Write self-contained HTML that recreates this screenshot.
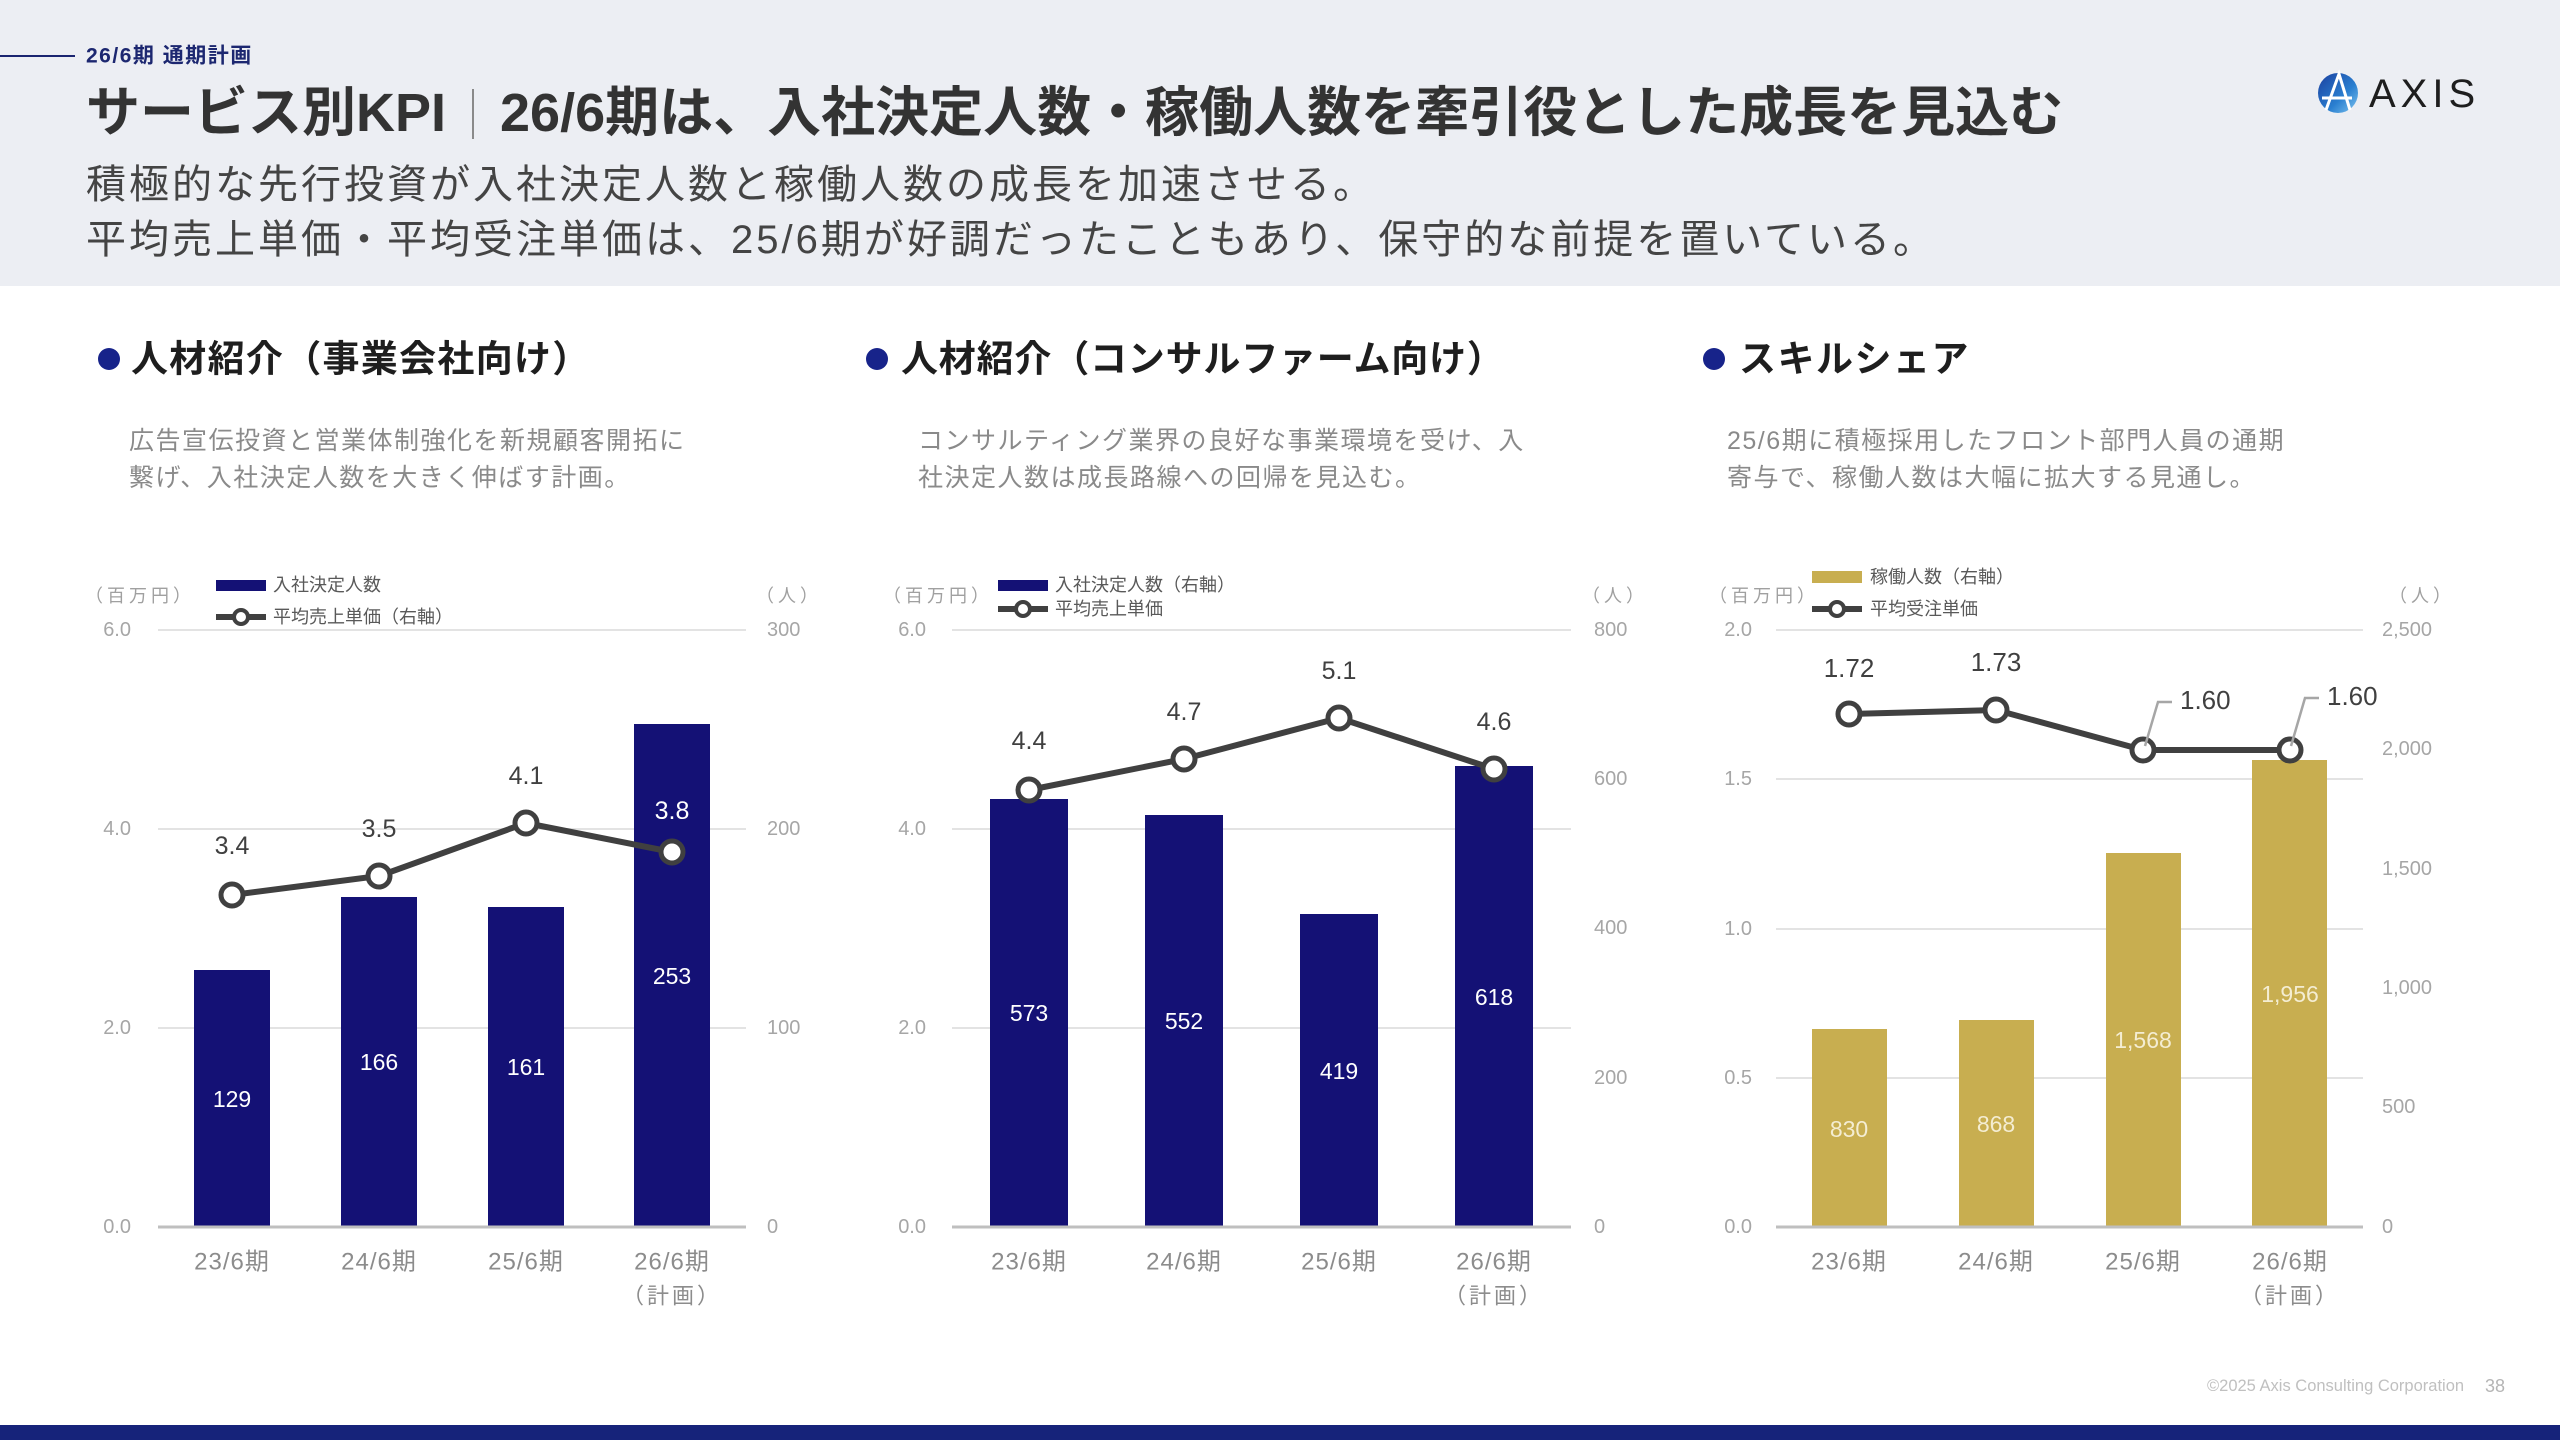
<!DOCTYPE html>
<html><head><meta charset="utf-8"><style>
html,body{margin:0;padding:0;width:2560px;height:1440px;overflow:hidden;background:#fff}
svg{display:block}
text{font-family:"Liberation Sans","Noto Sans CJK JP",sans-serif}
</style></head><body>
<svg width="2560" height="1440" viewBox="0 0 2560 1440" xmlns="http://www.w3.org/2000/svg">
<defs>
<linearGradient id="lg" x1="0" y1="0" x2="1" y2="1">
<stop offset="0" stop-color="#1b3f9e"/><stop offset="0.6" stop-color="#2a7fd0"/><stop offset="1" stop-color="#7fc6f0"/>
</linearGradient>
</defs>
<!-- header -->
<rect x="0" y="0" width="2560" height="286" fill="#ECEEF3"/>
<rect x="0" y="1425" width="2560" height="15" fill="#16237A"/>
<line x1="0" y1="56" x2="75" y2="56" stroke="#1a2470" stroke-width="2"/>
<text x="86" y="56" dominant-baseline="central" font-size="21" font-weight="bold" letter-spacing="1.5" fill="#1c2770">26/6期 通期計画</text>
<text x="86" y="113" dominant-baseline="central" font-size="54" font-weight="bold" fill="#333">サービス別KPI</text>
<line x1="473" y1="89" x2="473" y2="139" stroke="#8a8a8a" stroke-width="2"/>
<text x="500" y="113" dominant-baseline="central" font-size="54" font-weight="bold" fill="#333">26/6期は、入社決定人数・稼働人数を牽引役とした成長を見込む</text>
<text x="86" y="185" dominant-baseline="central" font-size="40" letter-spacing="3" fill="#444">積極的な先行投資が入社決定人数と稼働人数の成長を加速させる。</text>
<text x="86" y="240" dominant-baseline="central" font-size="40" letter-spacing="3" fill="#444">平均売上単価・平均受注単価は、25/6期が好調だったこともあり、保守的な前提を置いている。</text>
<!-- logo -->
<circle cx="2338" cy="93" r="20" fill="url(#lg)"/>
<path d="M2326 110 L2339 74 L2350 110 M2322 98 L2352 98" stroke="#fff" stroke-width="3" fill="none"/>
<text x="2369" y="94" dominant-baseline="central" font-size="40" letter-spacing="5" fill="#1e1e1e">AXIS</text>

<!-- section headers -->
<circle cx="109" cy="359" r="11" fill="#17238a"/>
<text x="131" y="359" dominant-baseline="central" font-size="37" font-weight="bold" letter-spacing="1.3" fill="#1e1e1e">人材紹介（事業会社向け）</text>
<circle cx="877" cy="359" r="11" fill="#17238a"/>
<text x="901" y="359" dominant-baseline="central" font-size="37" font-weight="bold" letter-spacing="0.8" fill="#1e1e1e">人材紹介（コンサルファーム向け）</text>
<circle cx="1714" cy="359" r="11" fill="#17238a"/>
<text x="1739" y="359" dominant-baseline="central" font-size="37" font-weight="bold" letter-spacing="1.5" fill="#1e1e1e">スキルシェア</text>

<g font-size="25" letter-spacing="1.5" fill="#8a8a8a">
<text x="129" y="441" dominant-baseline="central">広告宣伝投資と営業体制強化を新規顧客開拓に</text>
<text x="129" y="478" dominant-baseline="central">繋げ、入社決定人数を大きく伸ばす計画。</text>
<text x="918" y="441" dominant-baseline="central">コンサルティング業界の良好な事業環境を受け、入</text>
<text x="918" y="478" dominant-baseline="central">社決定人数は成長路線への回帰を見込む。</text>
<text x="1727" y="441" dominant-baseline="central">25/6期に積極採用したフロント部門人員の通期</text>
<text x="1727" y="478" dominant-baseline="central">寄与で、稼働人数は大幅に拡大する見通し。</text>
</g>

<!-- ============ CHART 1 ============ -->
<g stroke="#e3e3e3" stroke-width="2">
<line x1="158" y1="630" x2="746" y2="630"/><line x1="158" y1="829" x2="746" y2="829"/><line x1="158" y1="1028" x2="746" y2="1028"/>
</g>
<g fill="#141175">
<rect x="194" y="970" width="76" height="257"/>
<rect x="341" y="897" width="76" height="330"/>
<rect x="488" y="907" width="76" height="320"/>
<rect x="634" y="724" width="76" height="503"/>
</g>
<line x1="158" y1="1227" x2="746" y2="1227" stroke="#bfbfbf" stroke-width="3"/>
<g font-size="23" fill="#fff" text-anchor="middle">
<text x="232" y="1099" dominant-baseline="central">129</text>
<text x="379" y="1062" dominant-baseline="central">166</text>
<text x="526" y="1067" dominant-baseline="central">161</text>
<text x="672" y="976" dominant-baseline="central">253</text>
</g>
<polyline points="232,895 379,876 526,823 672,852" fill="none" stroke="#404040" stroke-width="6"/>
<g fill="#fff" stroke="#404040" stroke-width="5">
<circle cx="232" cy="895" r="11"/><circle cx="379" cy="876" r="11"/><circle cx="526" cy="823" r="11"/><circle cx="672" cy="852" r="11"/>
</g>
<g font-size="25" fill="#404040" text-anchor="middle">
<text x="232" y="846" dominant-baseline="central">3.4</text>
<text x="379" y="829" dominant-baseline="central">3.5</text>
<text x="526" y="776" dominant-baseline="central">4.1</text>
<text x="672" y="811" dominant-baseline="central" fill="#fff">3.8</text>
</g>
<g font-size="20" fill="#a6a6a6" text-anchor="end">
<text x="131" y="630" dominant-baseline="central">6.0</text>
<text x="131" y="829" dominant-baseline="central">4.0</text>
<text x="131" y="1028" dominant-baseline="central">2.0</text>
<text x="131" y="1227" dominant-baseline="central">0.0</text>
</g>
<g font-size="20" fill="#a6a6a6">
<text x="767" y="630" dominant-baseline="central">300</text>
<text x="767" y="829" dominant-baseline="central">200</text>
<text x="767" y="1028" dominant-baseline="central">100</text>
<text x="767" y="1227" dominant-baseline="central">0</text>
</g>
<g font-size="18" fill="#a0a0a0" letter-spacing="4">
<text x="85" y="596" dominant-baseline="central">（百万円）</text>
<text x="756" y="596" dominant-baseline="central">（人）</text>
</g>
<g font-size="24" letter-spacing="1" fill="#8c8c8c" text-anchor="middle">
<text x="232" y="1262" dominant-baseline="central">23/6期</text>
<text x="379" y="1262" dominant-baseline="central">24/6期</text>
<text x="526" y="1262" dominant-baseline="central">25/6期</text>
<text x="672" y="1262" dominant-baseline="central">26/6期</text>
<text x="672" y="1296" dominant-baseline="central" font-size="22" letter-spacing="3">（計画）</text>
</g>
<rect x="216" y="580" width="50" height="11" fill="#141175"/>
<line x1="216" y1="617" x2="266" y2="617" stroke="#404040" stroke-width="6"/>
<circle cx="241" cy="617" r="7" fill="#fff" stroke="#404040" stroke-width="4"/>
<g font-size="18" fill="#595959">
<text x="273" y="585" dominant-baseline="central">入社決定人数</text>
<text x="273" y="617" dominant-baseline="central">平均売上単価（右軸）</text>
</g>

<!-- ============ CHART 2 ============ -->
<g stroke="#e3e3e3" stroke-width="2">
<line x1="952" y1="630" x2="1571" y2="630"/><line x1="952" y1="829" x2="1571" y2="829"/><line x1="952" y1="1028" x2="1571" y2="1028"/>
</g>
<g fill="#141175">
<rect x="990" y="799" width="78" height="428"/>
<rect x="1145" y="815" width="78" height="412"/>
<rect x="1300" y="914" width="78" height="313"/>
<rect x="1455" y="766" width="78" height="461"/>
</g>
<line x1="952" y1="1227" x2="1571" y2="1227" stroke="#bfbfbf" stroke-width="3"/>
<g font-size="23" fill="#fff" text-anchor="middle">
<text x="1029" y="1013" dominant-baseline="central">573</text>
<text x="1184" y="1021" dominant-baseline="central">552</text>
<text x="1339" y="1071" dominant-baseline="central">419</text>
<text x="1494" y="997" dominant-baseline="central">618</text>
</g>
<polyline points="1029,790 1184,759 1339,718 1494,769" fill="none" stroke="#404040" stroke-width="6"/>
<g fill="#fff" stroke="#404040" stroke-width="5">
<circle cx="1029" cy="790" r="11"/><circle cx="1184" cy="759" r="11"/><circle cx="1339" cy="718" r="11"/><circle cx="1494" cy="769" r="11"/>
</g>
<g font-size="25" fill="#404040" text-anchor="middle">
<text x="1029" y="741" dominant-baseline="central">4.4</text>
<text x="1184" y="712" dominant-baseline="central">4.7</text>
<text x="1339" y="671" dominant-baseline="central">5.1</text>
<text x="1494" y="722" dominant-baseline="central">4.6</text>
</g>
<g font-size="20" fill="#a6a6a6" text-anchor="end">
<text x="926" y="630" dominant-baseline="central">6.0</text>
<text x="926" y="829" dominant-baseline="central">4.0</text>
<text x="926" y="1028" dominant-baseline="central">2.0</text>
<text x="926" y="1227" dominant-baseline="central">0.0</text>
</g>
<g font-size="20" fill="#a6a6a6">
<text x="1594" y="630" dominant-baseline="central">800</text>
<text x="1594" y="779" dominant-baseline="central">600</text>
<text x="1594" y="928" dominant-baseline="central">400</text>
<text x="1594" y="1078" dominant-baseline="central">200</text>
<text x="1594" y="1227" dominant-baseline="central">0</text>
</g>
<g font-size="18" fill="#a0a0a0" letter-spacing="4">
<text x="883" y="596" dominant-baseline="central">（百万円）</text>
<text x="1582" y="596" dominant-baseline="central">（人）</text>
</g>
<g font-size="24" letter-spacing="1" fill="#8c8c8c" text-anchor="middle">
<text x="1029" y="1262" dominant-baseline="central">23/6期</text>
<text x="1184" y="1262" dominant-baseline="central">24/6期</text>
<text x="1339" y="1262" dominant-baseline="central">25/6期</text>
<text x="1494" y="1262" dominant-baseline="central">26/6期</text>
<text x="1494" y="1296" dominant-baseline="central" font-size="22" letter-spacing="3">（計画）</text>
</g>
<rect x="998" y="580" width="50" height="11" fill="#141175"/>
<line x1="998" y1="609" x2="1048" y2="609" stroke="#404040" stroke-width="6"/>
<circle cx="1023" cy="609" r="7" fill="#fff" stroke="#404040" stroke-width="4"/>
<g font-size="18" fill="#595959">
<text x="1055" y="585" dominant-baseline="central">入社決定人数（右軸）</text>
<text x="1055" y="609" dominant-baseline="central">平均売上単価</text>
</g>

<!-- ============ CHART 3 ============ -->
<g stroke="#e3e3e3" stroke-width="2">
<line x1="1776" y1="630" x2="2363" y2="630"/><line x1="1776" y1="779" x2="2363" y2="779"/><line x1="1776" y1="929" x2="2363" y2="929"/><line x1="1776" y1="1078" x2="2363" y2="1078"/>
</g>
<g fill="#C8AE50">
<rect x="1812" y="1029" width="75" height="198"/>
<rect x="1959" y="1020" width="75" height="207"/>
<rect x="2106" y="853" width="75" height="374"/>
<rect x="2252" y="760" width="75" height="467"/>
</g>
<line x1="1776" y1="1227" x2="2363" y2="1227" stroke="#bfbfbf" stroke-width="3"/>
<g font-size="23" fill="#F4EDD2" text-anchor="middle">
<text x="1849" y="1129" dominant-baseline="central">830</text>
<text x="1996" y="1124" dominant-baseline="central">868</text>
<text x="2143" y="1040" dominant-baseline="central">1,568</text>
<text x="2290" y="994" dominant-baseline="central">1,956</text>
</g>
<polyline points="1849,714 1996,710 2143,750 2290,750" fill="none" stroke="#404040" stroke-width="6"/>
<g fill="#fff" stroke="#404040" stroke-width="5">
<circle cx="1849" cy="714" r="11"/><circle cx="1996" cy="710" r="11"/><circle cx="2143" cy="750" r="11"/><circle cx="2290" cy="750" r="11"/>
</g>
<g fill="none" stroke="#a6a6a6" stroke-width="2.5">
<polyline points="2145,746 2158,702 2172,702"/>
<polyline points="2291,746 2305,698 2319,698"/>
</g>
<g font-size="26" fill="#404040">
<text x="1849" y="668" text-anchor="middle" dominant-baseline="central">1.72</text>
<text x="1996" y="662" text-anchor="middle" dominant-baseline="central">1.73</text>
<text x="2180" y="700" dominant-baseline="central">1.60</text>
<text x="2327" y="696" dominant-baseline="central">1.60</text>
</g>
<g font-size="20" fill="#a6a6a6" text-anchor="end">
<text x="1752" y="630" dominant-baseline="central">2.0</text>
<text x="1752" y="779" dominant-baseline="central">1.5</text>
<text x="1752" y="929" dominant-baseline="central">1.0</text>
<text x="1752" y="1078" dominant-baseline="central">0.5</text>
<text x="1752" y="1227" dominant-baseline="central">0.0</text>
</g>
<g font-size="20" fill="#a6a6a6">
<text x="2382" y="630" dominant-baseline="central">2,500</text>
<text x="2382" y="749" dominant-baseline="central">2,000</text>
<text x="2382" y="869" dominant-baseline="central">1,500</text>
<text x="2382" y="988" dominant-baseline="central">1,000</text>
<text x="2382" y="1107" dominant-baseline="central">500</text>
<text x="2382" y="1227" dominant-baseline="central">0</text>
</g>
<g font-size="18" fill="#a0a0a0" letter-spacing="4">
<text x="1709" y="596" dominant-baseline="central">（百万円）</text>
<text x="2389" y="596" dominant-baseline="central">（人）</text>
</g>
<g font-size="24" letter-spacing="1" fill="#8c8c8c" text-anchor="middle">
<text x="1849" y="1262" dominant-baseline="central">23/6期</text>
<text x="1996" y="1262" dominant-baseline="central">24/6期</text>
<text x="2143" y="1262" dominant-baseline="central">25/6期</text>
<text x="2290" y="1262" dominant-baseline="central">26/6期</text>
<text x="2290" y="1296" dominant-baseline="central" font-size="22" letter-spacing="3">（計画）</text>
</g>
<rect x="1812" y="571" width="50" height="12" fill="#C8AE50"/>
<line x1="1812" y1="609" x2="1862" y2="609" stroke="#404040" stroke-width="6"/>
<circle cx="1837" cy="609" r="7" fill="#fff" stroke="#404040" stroke-width="4"/>
<g font-size="18" fill="#595959">
<text x="1870" y="577" dominant-baseline="central">稼働人数（右軸）</text>
<text x="1870" y="609" dominant-baseline="central">平均受注単価</text>
</g>

<!-- footer -->
<text x="2207" y="1386" dominant-baseline="central" font-size="16.5" fill="#c0c0c0">©2025 Axis Consulting Corporation</text>
<text x="2485" y="1386" dominant-baseline="central" font-size="18" fill="#b5b5b5">38</text>
</svg>
</body></html>
